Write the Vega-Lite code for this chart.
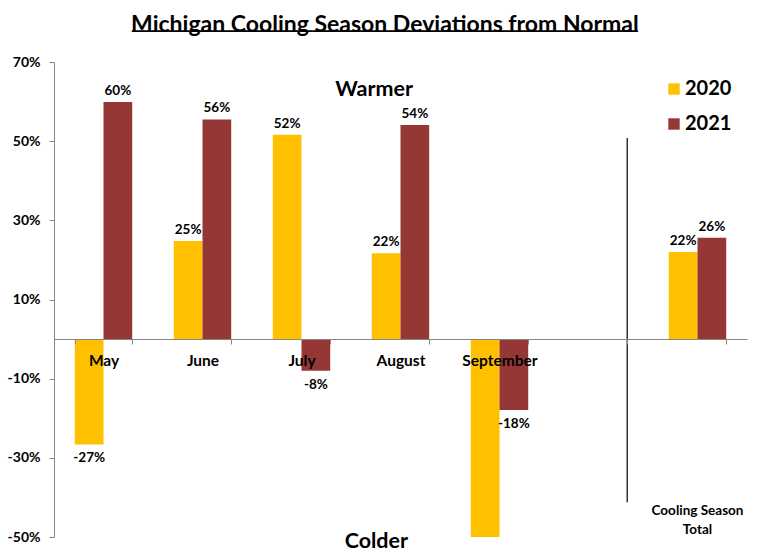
{
  "$schema": "https://vega.github.io/schema/vega-lite/v6.json",
  "width": 693,
  "height": 475,
  "autosize": {"type": "none"},
  "padding": {"left": 54, "top": 62, "right": 21, "bottom": 20},
  "background": "white",
  "config": {
    "font": "Lato",
    "view": {"stroke": null},
    "text": {"font": "Lato", "fontWeight": "bold", "color": "black"}
  },
  "title": {
    "text": "Michigan Cooling Season Deviations from Normal",
    "subtitle": "──────────────────────────────────────────",
    "font": "Lato",
    "fontSize": 23,
    "fontWeight": "bold",
    "color": "black",
    "subtitleFont": "DejaVu Sans Mono",
    "subtitleFontSize": 20,
    "subtitleFontWeight": "bold",
    "subtitleColor": "black",
    "subtitlePadding": -15,
    "anchor": "middle",
    "dx": -15.6,
    "offset": 13
  },
  "data": {
    "values": [
      {"month": "May", "year": "2020", "value": -26.6, "label": "-27%"},
      {"month": "May", "year": "2021", "value": 59.9, "label": "60%"},
      {"month": "June", "year": "2020", "value": 24.8, "label": "25%"},
      {"month": "June", "year": "2021", "value": 55.5, "label": "56%"},
      {"month": "July", "year": "2020", "value": 51.6, "label": "52%"},
      {"month": "July", "year": "2021", "value": -8.0, "label": "-8%"},
      {"month": "August", "year": "2020", "value": 21.7, "label": "22%"},
      {"month": "August", "year": "2021", "value": 54.1, "label": "54%"},
      {"month": "September", "year": "2020", "value": -50.0, "label": ""},
      {"month": "September", "year": "2021", "value": -17.9, "label": "-18%"},
      {"month": "Cooling Season Total", "year": "2020", "value": 22.0, "label": "22%"},
      {"month": "Cooling Season Total", "year": "2021", "value": 25.6, "label": "26%"}
    ]
  },
  "encoding": {
    "x": {
      "field": "month",
      "type": "nominal",
      "sort": null,
      "scale": {
        "domain": ["May", "June", "July", "August", "September", " ", "Cooling Season Total"],
        "paddingInner": 0.42,
        "paddingOuter": 0.21
      },
      "axis": {
        "title": null,
        "orient": "bottom",
        "offset": -198,
        "labelAngle": 0,
        "tickBand": "extent",
        "tickSize": 5,
        "tickColor": "#868686",
        "domainColor": "#868686",
        "labelFont": "Lato",
        "labelFontSize": 15.5,
        "labelFontWeight": "bold",
        "labelColor": "black",
        "labelPadding": 9,
        "labelExpr": "datum.value == 'Cooling Season Total' ? '' : datum.value",
        "zindex": 2
      }
    }
  },
  "layer": [
    {
      "mark": {"type": "bar"},
      "encoding": {
        "xOffset": {"field": "year", "type": "nominal", "scale": {"paddingInner": 0, "paddingOuter": 0}},
        "y": {
          "field": "value",
          "type": "quantitative",
          "scale": {"domain": [-50, 70], "nice": false},
          "axis": {
            "title": null,
            "values": [-50, -30, -10, 10, 30, 50, 70],
            "labelExpr": "datum.value + '%'",
            "grid": false,
            "tickSize": 5,
            "tickColor": "#868686",
            "domainColor": "#868686",
            "labelFont": "Lato",
            "labelFontSize": 14,
            "labelFontWeight": "bold",
            "labelColor": "black",
            "labelPadding": 9
          }
        },
        "color": {
          "field": "year",
          "type": "nominal",
          "scale": {"domain": ["2020", "2021"], "range": ["#FFC000", "#953735"]},
          "legend": {
            "title": null,
            "orient": "none",
            "legendX": 610,
            "legendY": 17,
            "symbolType": "square",
            "symbolSize": 130,
            "symbolStrokeWidth": 0,
            "labelFont": "Lato",
            "labelFontSize": 20,
            "labelFontWeight": "bold",
            "labelColor": "black",
            "labelOffset": 1,
            "rowPadding": 15
          }
        }
      }
    },
    {
      "transform": [{"filter": "datum.value >= 0"}],
      "mark": {"type": "text", "baseline": "bottom", "dy": -4, "fontSize": 13.5},
      "encoding": {
        "xOffset": {"field": "year", "type": "nominal"},
        "y": {"field": "value", "type": "quantitative"},
        "text": {"field": "label", "type": "nominal"}
      }
    },
    {
      "transform": [{"filter": "datum.value < 0"}],
      "mark": {"type": "text", "baseline": "top", "dy": 7, "fontSize": 13.5},
      "encoding": {
        "xOffset": {"field": "year", "type": "nominal"},
        "y": {"field": "value", "type": "quantitative"},
        "text": {"field": "label", "type": "nominal"}
      }
    },
    {
      "data": {"values": [{}]},
      "mark": {"type": "rule", "color": "black", "strokeWidth": 1.2},
      "encoding": {
        "x": {"datum": " ", "bandPosition": 1},
        "y": {"datum": 50.8},
        "y2": {"datum": -41.2}
      }
    },
    {
      "data": {"values": [{}]},
      "mark": {"type": "text", "fontSize": 21.5, "baseline": "middle", "align": "center"},
      "encoding": {
        "x": {"datum": "August", "bandPosition": 0.04},
        "y": {"datum": 62.9},
        "text": {"value": "Warmer"}
      }
    },
    {
      "data": {"values": [{}]},
      "mark": {"type": "text", "fontSize": 21.5, "baseline": "middle", "align": "center", "clip": false},
      "encoding": {
        "x": {"datum": "August", "bandPosition": 0.08},
        "y": {"datum": -51.2},
        "text": {"value": "Colder"}
      }
    },
    {
      "data": {"values": [{}]},
      "mark": {"type": "text", "fontSize": 13.5, "baseline": "middle", "align": "center", "lineHeight": 19},
      "encoding": {
        "x": {"datum": "Cooling Season Total", "bandPosition": 0.5},
        "y": {"datum": -43.4},
        "text": {"value": ["Cooling Season", "Total"]}
      }
    }
  ]
}
